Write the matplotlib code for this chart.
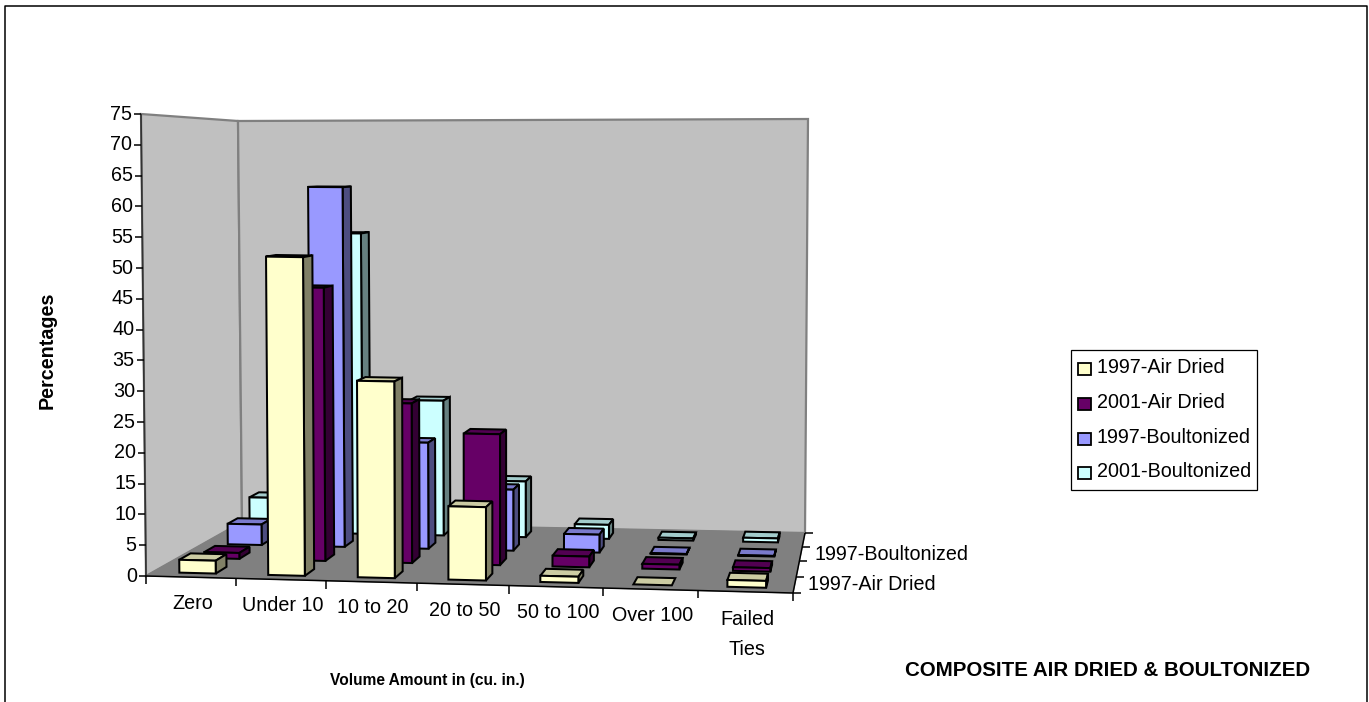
import numpy as np
import matplotlib
matplotlib.use("Agg")
import matplotlib.pyplot as plt
from matplotlib.patches import Polygon, Rectangle

plt.rcParams['font.family'] = ['Liberation Sans', 'DejaVu Sans']

categories = ["Zero", "Under 10", "10 to 20", "20 to 50", "50 to 100", "Over 100", "Failed\nTies"]
series_names = ["1997-Air Dried", "2001-Air Dried", "1997-Boultonized", "2001-Boultonized"]
air_1997 = [2.1, 52, 32, 11.9, 1, 0, 1.1]
air_2001 = [1, 46.2, 26.9, 22, 1.8, 0.8, 0.6]
boult_1997 = [3.6, 63, 18.5, 10.6, 3.1, 0.1, 0.1]
boult_2001 = [6.2, 54.4, 24.3, 10, 2.5, 0.4, 0.7]
percent_ticks = list(range(0, 80, 5))

face_colors = ["#FFFFCC", "#660066", "#9999FF", "#CCFFFF"]
top_colors = ["#CCCCA3", "#520052", "#7A7ACC", "#A3CCCC"]
side_colors = ["#808066", "#330033", "#4D4D80", "#668080"]

# box corners of the 3D plot area: front-left, front-right, back-right, back-left
floor_box = np.array([(146, 576), (793, 593), (805, 533), (242, 522)], float)
top_box = np.array([(141, 114), (798, 122), (808, 119), (238, 121)], float)
vmax = 75.0


def blend(box, u, w):
    return ((1 - u) * (1 - w) * box[0] + u * (1 - w) * box[1]
            + u * w * box[2] + (1 - u) * w * box[3])


def proj(cat, ser, val):
    # cat in 0..7 along the front, ser in 0..4 going back, val in percent
    u = cat / len(categories)
    u = u - 0.01 * np.sin(np.pi * u)
    w = ser / len(series_names)
    w = w + 0.03 * np.sin(np.pi * w)
    bottom = blend(floor_box, u, w)
    return tuple(bottom + (blend(top_box, u, w) - bottom) * val / vmax)


fig = plt.figure(figsize=(13.69, 7.02), dpi=100)
ax = fig.add_axes([0, 0, 1, 1])
ax.set_xlim(0, 1369)
ax.set_ylim(702, 0)
ax.axis("off")

# outer chart border, the bottom runs off the image
ax.plot([4.5, 4.5, 1366.5, 1366.5], [702, 5.5, 5.5, 702], color="black", lw=1.1)


def poly(pts, fc, ec="black", lw=1.45, z=2):
    ax.add_patch(Polygon(pts, closed=True, fc=fc, ec=ec, lw=lw, joinstyle="miter", zorder=z))


# walls and floor
poly([proj(0, 0, 0), proj(0, 4, 0), proj(0, 4, vmax), proj(0, 0, vmax)], "#C0C0C0", "#808080", 1.6)
poly([proj(0, 4, 0), proj(7, 4, 0), proj(7, 4, vmax), proj(0, 4, vmax)], "#C0C0C0", "#808080", 1.6)
poly([proj(0, 0, 0), proj(7, 0, 0), proj(7, 4, 0), proj(0, 4, 0)], "#808080", "#808080", 0.8)


def line(p, q, color="black", lw=1.1, z=3):
    ax.plot([p[0], q[0]], [p[1], q[1]], color=color, lw=lw, zorder=z, solid_capstyle="butt")


# axes
line(proj(0, 0, 0), proj(0, 0, vmax), "#333333", 1.2)
line(proj(0, 0, 0), proj(7, 0, 0))
line(proj(7, 0, 0), proj(7, 4, 0))
for t in percent_ticks:
    x, y = proj(0, 0, t)
    line((x - 7, y), (x, y))
    ax.text(x - 9, y, str(t), ha="right", va="center", fontsize=14.2, color="black")
for i in range(len(categories) + 1):
    x, y = proj(i, 0, 0)
    line((x, y), (x, y + 8))
for i, name in enumerate(categories):
    x, y = proj(i + 0.5, 0, 0)
    if "\n" in name:
        ax.text(x + 2, y + 43, name, ha="center", va="center", fontsize=14.2, linespacing=1.75)
    else:
        ax.text(x + 2, y + 26, name, ha="center", va="center", fontsize=14.2)
for s in range(len(series_names) + 1):
    x, y = proj(7, s, 0)
    line((x, y), (x + 8, y))
ax.text(815, 554, series_names[2], ha="left", va="center", fontsize=14.2)
ax.text(808, 584, series_names[0], ha="left", va="center", fontsize=14.2)

# columns, back row first so nearer ones cover them
all_series = [air_1997, air_2001, boult_1997, boult_2001]
bar_w = 0.41
bar_d = 0.45
for s in range(3, -1, -1):
    for c in range(len(categories)):
        v = all_series[s][c]
        u0, u1 = c + 0.5 - bar_w / 2, c + 0.5 + bar_w / 2
        w0, w1 = s + 0.5 - bar_d / 2, s + 0.5 + bar_d / 2
        poly([proj(u0, w0, v), proj(u1, w0, v), proj(u1, w1, v), proj(u0, w1, v)], top_colors[s], z=4)
        if v > 0:
            poly([proj(u1, w0, 0), proj(u1, w1, 0), proj(u1, w1, v), proj(u1, w0, v)], side_colors[s], z=4)
            poly([proj(u0, w0, 0), proj(u1, w0, 0), proj(u1, w0, v), proj(u0, w0, v)], face_colors[s], z=4)

# axis titles
ax.text(47, 350, "Percentages", rotation=90, ha="center", va="center", fontsize=14.2, fontweight="bold")
ax.text(427, 681, "Volume Amount in (cu. in.)", ha="center", va="center", fontsize=11.2, fontweight="bold")
ax.text(1107.5, 671, "COMPOSITE AIR DRIED & BOULTONIZED", ha="center", va="center", fontsize=14.8, fontweight="bold")

# legend box
ax.add_patch(Rectangle((1071, 350), 186, 140, fc="white", ec="black", lw=0.9, zorder=5))
legend_y = [369, 404, 439, 473]
for name, fc, y in zip(series_names, face_colors, legend_y):
    ax.add_patch(Rectangle((1078, y - 6), 13, 12, fc=fc, ec="black", lw=1.3, zorder=6))
    ax.text(1097, y - 1.5, name, ha="left", va="center", fontsize=14.2, zorder=6)

fig.savefig("out.png", dpi=100)
